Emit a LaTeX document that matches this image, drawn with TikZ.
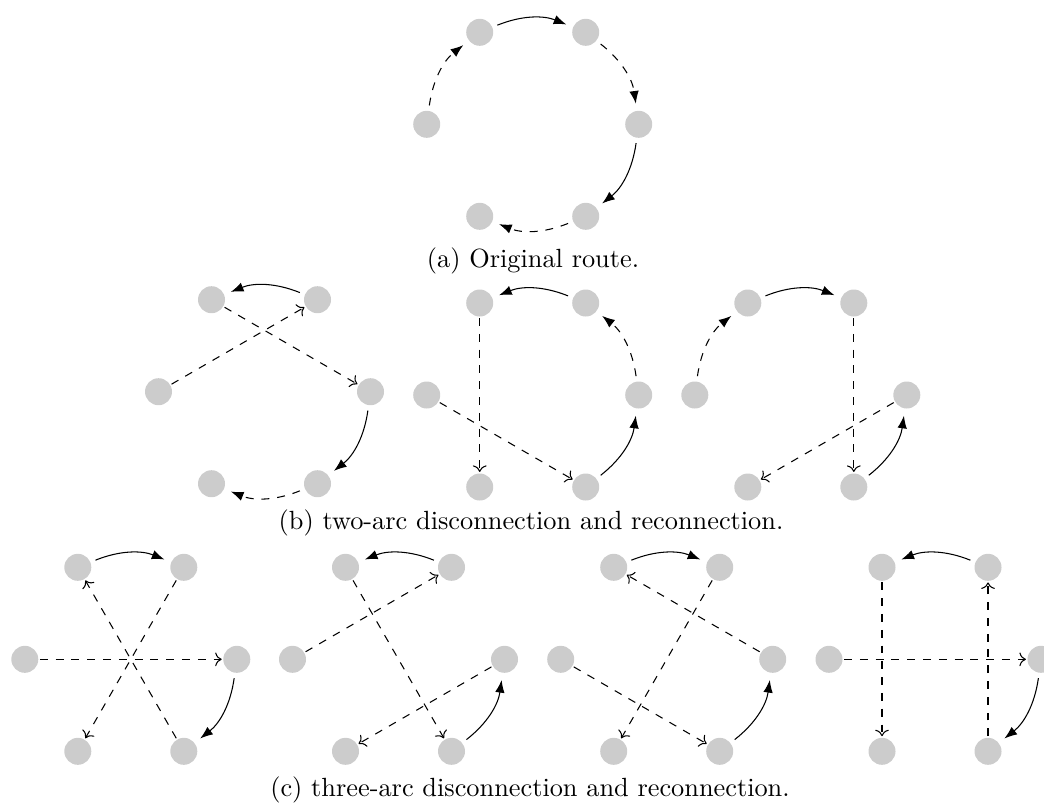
\documentclass[tikz,border=0pt]{standalone}
\usetikzlibrary{arrows.meta}

% six cities on a hexagon around (#2,#3), named #1tl, #1tr, #1l, #1r, #1bl, #1br
\newcommand\hexcities[3]{%
  \node[city] (#1tl) at (#2-53,#3-92) {};
  \node[city] (#1tr) at (#2+53,#3-92) {};
  \node[city] (#1l)  at (#2-106,#3)   {};
  \node[city] (#1r)  at (#2+106,#3)   {};
  \node[city] (#1bl) at (#2-53,#3+92) {};
  \node[city] (#1br) at (#2+53,#3+92) {};
}

\begin{document}
\begin{tikzpicture}[x=0.38pt,y=-0.38pt,
  city/.style={circle,fill=black!20,minimum size=10.26pt,inner sep=0pt,outer sep=0.6pt},
  kept/.style={-{Latex},shorten <=1.5pt,shorten >=2.2pt},
  arcdash/.style={kept,dashed},
  link/.style={->,dashed},
  bl/.style={bend left=22},
  br/.style={bend right=22},
  captext/.style={anchor=base,font=\normalsize}]
\clip (0,0) rectangle (1044,808);

% (a) original route
\hexcities{a}{532.7}{124.3}
\draw[arcdash] (al)  to[bl] (atl);
\draw[kept]    (atl) to[bl] (atr);
\draw[arcdash] (atr) to[bl] (ar);
\draw[kept]    (ar)  to[bl] (abr);
\draw[arcdash] (abr) to[bl] (abl);
\node[captext] (capa) at (533,267) {(a) Original route.};

% (b) two-arc moves
\hexcities{ba}{264.5}{391.7}
\draw[kept]    (batr) to[br] (batl);
\draw[link]    (batl) -- (bar);
\draw[link]    (bal)  -- (batr);
\draw[kept]    (bar)  to[bl] (babr);
\draw[arcdash] (babr) to[bl] (babl);

\hexcities{bb}{532.7}{395}
\draw[kept]    (bbtr) to[br] (bbtl);
\draw[arcdash] (bbr)  to[br] (bbtr);
\draw[kept]    (bbbr) to[br] (bbr);
\draw[link]    (bbtl) -- (bbbl);
\draw[link]    (bbl)  -- (bbbr);

\hexcities{bc}{800.8}{395}
\draw[arcdash] (bcl)  to[bl] (bctl);
\draw[kept]    (bctl) to[bl] (bctr);
\draw[link]    (bctr) -- (bcbr);
\draw[link]    (bcr)  -- (bcbl);
\draw[kept]    (bcbr) to[br] (bcr);
\node[captext] (capb) at (531,529) {(b) two-arc disconnection and reconnection.};

% (c) three-arc moves
\hexcities{ca}{130.8}{659.3}
\draw[kept] (catl) to[bl] (catr);
\draw[link] (cal)  -- (car);
\draw[link] (catr) -- (cabl);
\draw[link] (cabr) -- (catl);
\draw[kept] (car)  to[bl] (cabr);

\hexcities{cb}{398.5}{659.3}
\draw[kept] (cbtr) to[br] (cbtl);
\draw[link] (cbl)  -- (cbtr);
\draw[link] (cbtl) -- (cbbr);
\draw[link] (cbr)  -- (cbbl);
\draw[kept] (cbbr) to[br] (cbr);

\hexcities{cc}{666.7}{659.3}
\draw[kept] (cctl) to[bl] (cctr);
\draw[link] (ccr)  -- (cctl);
\draw[link] (cctr) -- (ccbl);
\draw[link] (ccl)  -- (ccbr);
\draw[kept] (ccbr) to[br] (ccr);

\hexcities{cd}{935}{659.3}
\draw[kept] (cdtr) to[br] (cdtl);
\draw[link] (cdtl) -- (cdbl);
\draw[link] (cdbr) -- (cdtr);
\draw[link] (cdl)  -- (cdr);
\draw[kept] (cdr)  to[bl] (cdbr);
\node[captext] (capc) at (530,796) {(c) three-arc disconnection and reconnection.};
\end{tikzpicture}
\end{document}
